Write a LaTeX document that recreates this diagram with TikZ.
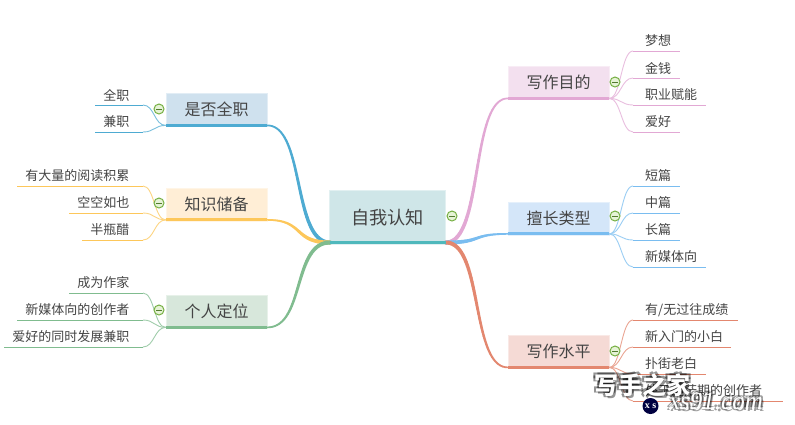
\documentclass[tikz,border=0pt]{standalone}
\usepackage{fontspec}
\setmainfont{Noto Sans CJK SC}[Scale=1.0]
\newfontfamily\wmlatin{Liberation Serif}
\usetikzlibrary{calc}
\definecolor{txt}{HTML}{444444}
\definecolor{cRoot}{HTML}{4FB8BC}\definecolor{fRoot}{HTML}{CFE6E8}
\definecolor{cA}{HTML}{4EABD2}\definecolor{fA}{HTML}{CFE1EE}
\definecolor{cB}{HTML}{FDC75A}\definecolor{fB}{HTML}{FFEED6}
\definecolor{cC}{HTML}{80BC8F}\definecolor{fC}{HTML}{D7E7DB}
\definecolor{cD}{HTML}{E2A8D4}\definecolor{fD}{HTML}{F3E0EF}
\definecolor{cE}{HTML}{7ABDF0}\definecolor{fE}{HTML}{D4E6F9}
\definecolor{cF}{HTML}{E3876F}\definecolor{fF}{HTML}{F5DAD5}
\definecolor{iconline}{HTML}{76B043}\definecolor{iconfill}{HTML}{E6F3D6}
\tikzset{
  topicbox/.style={minimum width=101pt,minimum height=33pt,inner sep=0pt,font=\fontsize{16}{16}\selectfont,text=txt},
  rootbox/.style={minimum width=116pt,minimum height=54pt,inner sep=0pt,font=\fontsize{18.2}{18}\selectfont,text=txt},
  leaftext/.style={inner sep=0pt,font=\fontsize{13}{13}\selectfont,text=txt},
  collapse/.style={circle,draw=iconline,fill=iconfill,line width=1pt,minimum size=10pt,inner sep=0pt},
  wmcjk/.style={inner sep=0pt,font=\fontsize{24}{24}\selectfont\bfseries},
  wmlat/.style={inner sep=0pt,font=\fontsize{25}{25}\wmlatin\itshape},
}
% tapered S-curve: from #1 (width #3) to #2 (width #4), colour #5
\newcommand{\sbranch}[5]{%
  \foreach \i in {1,...,40}{%
    \pgfmathsetmacro\ta{(\i-1)/40}%
    \pgfmathsetmacro\tb{\i/40}%
    \pgfmathsetmacro\Xa{1.8*\ta*(1-\ta)^2+1.2*\ta*\ta*(1-\ta)+\ta^3}%
    \pgfmathsetmacro\Xb{1.8*\tb*(1-\tb)^2+1.2*\tb*\tb*(1-\tb)+\tb^3}%
    \pgfmathsetmacro\Ya{3*\ta*\ta-2*\ta^3}%
    \pgfmathsetmacro\Yb{3*\tb*\tb-2*\tb^3}%
    \pgfmathsetmacro\wd{#3+(#4-#3)*\tb}%
    \draw[#5,line width=\wd pt,line cap=round] let \p1=(#1),\p2=(#2),\n1={\x2-\x1},\n2={\y2-\y1} in
      ($(\p1)+(\Xa*\n1,\Ya*\n2)$) -- ($(\p1)+(\Xb*\n1,\Yb*\n2)$);
  }%
}
% topic: name, x centre, top y, fill, line colour, text
\newcommand{\topic}[6]{%
  \node[topicbox,fill=#4,draw=#4!60!white,line width=0.6pt,anchor=north] (#1) at (#2,#3) {#6};
  \draw[#5,line width=3pt] (#1.south west)++(0,-1.2) coordinate (#1L) -- ($(#1.south east)+(0,-1.2)$) coordinate (#1R);
}
% left leaf: name, y of underline, left x of underline, text, colour, parent
\newcommand{\leftleaf}[6]{%
  \coordinate (#1a) at (143,#2); \coordinate (#1b) at (#3,#2);
  \node[leaftext,anchor=east] (#1) at (129.5,#2-10) {#4};
  \draw[#5,line width=0.9pt] (#1a) -- (#1b);
  \draw[#5!75!white,line width=0.9pt] let \p1=(#6L),\p2=(#1a) in (\p1) .. controls (\x1/2+\x2/2,\y1) and (\x1/2+\x2/2,\y2) .. (\p2);
}
% right leaf: name, y, right x, text, colour, parent
\newcommand{\rightleaf}[6]{%
  \coordinate (#1a) at (633,#2); \coordinate (#1b) at (#3,#2);
  \node[leaftext,anchor=west] (#1) at (645,#2-10) {#4};
  \draw[#5,line width=0.9pt] (#1a) -- (#1b);
  \draw[#5!75!white,line width=0.9pt] let \p1=(#6R),\p2=(#1a) in (\p1) .. controls (\x1/2+\x2/2,\y1) and (\x1/2+\x2/2,\y2) .. (\p2);
}
\newcommand{\minusicon}[2]{%
  \node[collapse] (#1) at #2 {};
  \draw[iconline!70!black,line width=0.9pt] ($(#1.center)+(-3.2,0)$) -- ($(#1.center)+(3.2,0)$);
}
\begin{document}
\begin{tikzpicture}[x=1pt,y=-1pt]
\useasboundingbox (0,0) rectangle (795,424);
\fill[white] (0,0) rectangle (795,424);
% root
\node[rootbox,fill=fRoot,draw=fRoot!60!white,line width=0.6pt,anchor=north] (root) at (387.5,190) {自我认知};
\coordinate (rootL) at (330,242.5);
\coordinate (rootR) at (446,242.5);
% topics
\topic{qz}{216.5}{93}{fA}{cA}{是否全职}
\topic{zs}{216.5}{187.5}{fB}{cB}{知识储备}
\topic{gr}{216.5}{295}{fC}{cC}{个人定位}
\topic{md}{558.5}{66}{fD}{cD}{写作目的}
\topic{sc}{558.5}{201.5}{fE}{cE}{擅长类型}
\topic{sp}{558.5}{335}{fF}{cF}{写作水平}
% main branches
\sbranch{qzR}{rootL}{1.6}{4}{cA}
\sbranch{zsR}{rootL}{1.6}{4}{cB}
\sbranch{grR}{rootL}{1.6}{4}{cC}
\sbranch{mdL}{rootR}{1.6}{4}{cD}
\sbranch{scL}{rootR}{1.6}{4}{cE}
\sbranch{spL}{rootR}{1.6}{4}{cF}
\draw[cRoot,line width=3.4pt] (rootL) -- (rootR);
% leaves
\leftleaf{a1}{105}{95}{全职}{cA}{qz}
\leftleaf{a2}{132}{95}{兼职}{cA}{qz}
\leftleaf{b1}{186}{17}{有大量的阅读积累}{cB}{zs}
\leftleaf{b2}{213}{69}{空空如也}{cB}{zs}
\leftleaf{b3}{240}{82}{半瓶醋}{cB}{zs}
\leftleaf{c1}{293}{69}{成为作家}{cC}{gr}
\leftleaf{c2}{320}{17}{新媒体向的创作者}{cC}{gr}
\leftleaf{c3}{347}{4}{爱好的同时发展兼职}{cC}{gr}
\rightleaf{d1}{51}{680}{梦想}{cD}{md}
\rightleaf{d2}{78}{680}{金钱}{cD}{md}
\rightleaf{d3}{105}{706}{职业赋能}{cD}{md}
\rightleaf{d4}{132}{680}{爱好}{cD}{md}
\rightleaf{e1}{186}{680}{短篇}{cE}{sc}
\rightleaf{e2}{213}{680}{中篇}{cE}{sc}
\rightleaf{e3}{240}{680}{长篇}{cE}{sc}
\rightleaf{e4}{267}{706}{新媒体向}{cE}{sc}
\rightleaf{f1}{320}{738}{有/无过往成绩}{cF}{sp}
\rightleaf{f2}{347}{731}{新入门的小白}{cF}{sp}
\rightleaf{f3}{374}{706}{扑街老白}{cF}{sp}
\rightleaf{f4}{401}{783}{处于迷茫期的创作者}{cF}{sp}
% collapse icons
\minusicon{i0}{(452,216)}
\minusicon{i1}{(159,109)}
\minusicon{i2}{(159,203)}
\minusicon{i3}{(159,310)}
\minusicon{i4}{(615,82)}
\minusicon{i5}{(615,216)}
\minusicon{i6}{(615,351)}
% watermark
\foreach \dx/\dy in {-1.6/-1.6,1.6/-1.6,-1.6/1.6,2/2}{
  \node[wmcjk,text=black,opacity=0.42] at (642.5+\dx,385+\dy) {写手之家};
  \node[wmlat,text=black,opacity=0.38] at (716+\dx,401+\dy) {xs91.com};
}
\node[wmcjk,text=white] (wm1) at (642.5,385) {写手之家};
\node[wmlat,text=white] (wm2) at (716,401) {xs91.com};
\node[circle,fill=black!75!blue,minimum size=16pt,inner sep=0pt,text=white,font=\fontsize{10}{10}\bfseries\wmlatin] (wm3) at (650.5,406) {x s};
\end{tikzpicture}
\end{document}
